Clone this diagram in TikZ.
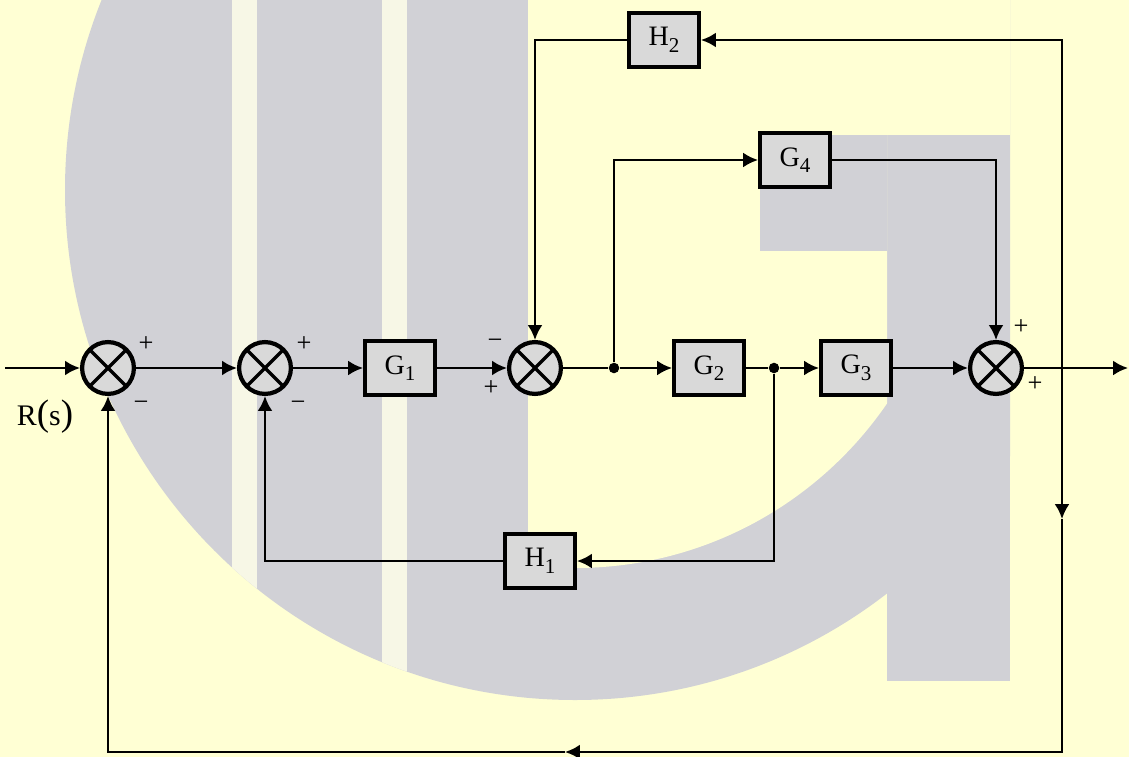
\documentclass[tikz,border=0pt]{standalone}
\usepackage{fontspec}
\setmainfont{Liberation Serif}
\usetikzlibrary{arrows.meta}
\definecolor{bgcol}{RGB}{255,255,212}
\definecolor{logocol}{RGB}{209,209,214}
\definecolor{stripecol}{RGB}{247,247,230}
\definecolor{boxcol}{RGB}{217,217,217}
\tikzstyle{block}=[draw,line width=2.1pt,fill=boxcol,minimum width=40pt,minimum height=31pt,
                   inner sep=0,font=\fontsize{16}{18}\selectfont]
\tikzstyle{summer}=[draw,circle,line width=2.4pt,fill=boxcol,minimum size=29.5pt,inner sep=0,
                    path picture={\draw[line width=2pt]
                      (path picture bounding box.north west) -- (path picture bounding box.south east)
                      (path picture bounding box.north east) -- (path picture bounding box.south west);}]
\tikzstyle{dot}=[fill,circle,inner sep=0,minimum size=6pt]
\tikzstyle{sign}=[font=\fontsize{15}{15}\selectfont,inner sep=0]
\tikzstyle{wire}=[line width=1.4pt]
\tikzstyle{sig}=[wire,-{Latex[length=8.5pt,width=8.5pt]}]
\def\sub#1{\raisebox{-0.5ex}{\fontsize{12}{12}\selectfont#1}}

\begin{document}
\begin{tikzpicture}[x=0.02cm,y=-0.02cm]
  \useasboundingbox (0,0) rectangle (1129,757);

  % BACKGROUND LOGO
  \fill[bgcol] (0,0) rectangle (1129,757);
  \begin{scope}
    \clip (0,0) rectangle (1010,757);
    \fill[logocol] (575,190) circle[radius=510];
  \end{scope}
  \fill[logocol] (887,135) rectangle (1010,681);
  \begin{scope}
    \clip (528,0) rectangle (887,757);
    \fill[bgcol] (575,190) circle[radius=378];
  \end{scope}
  \fill[bgcol] (887,0) rectangle (1010,135);
  \fill[logocol] (760,135) rectangle (887,251);
  \begin{scope}
    \clip (575,190) circle[radius=510];
    \fill[stripecol] (232,0) rectangle (257,757);
    \fill[stripecol] (382,0) rectangle (407,757);
  \end{scope}

  % FORWARD PATH
  \coordinate (in) at (5,368);
  \node[summer] (s1) at (108,368) {};
  \node[summer] (s2) at (265,368) {};
  \node[block] (G1) at (400,368) {G\sub{1}};
  \node[summer] (s3) at (535,368) {};
  \node[dot] (b1) at (614,368) {};
  \node[block] (G2) at (709,368) {G\sub{2}};
  \node[dot] (b2) at (774,368) {};
  \node[block] (G3) at (856,368) {G\sub{3}};
  \node[summer] (s4) at (996,368) {};
  \coordinate (out) at (1128,368);
  \node[block] (G4) at (795,160) {G\sub{4}};
  \node[block] (H2) at (664,40) {H\sub{2}};
  \node[block] (H1) at (540,561) {H\sub{1}};
  \node (Rs) at (45,417) {\fontsize{17}{19}\selectfont R{\fontsize{21}{21}\selectfont(}s{\fontsize{21}{21}\selectfont)}};

  % SIGNS
  \node[sign] (p1) at (146,344) {+};
  \node[sign] (m1) at (141,406) {−};
  \node[sign] (p2) at (304,344) {+};
  \node[sign] (m2) at (298,406) {−};
  \node[sign] (m3) at (495,344) {−};
  \node[sign] (p3) at (491,388) {+};
  \node[sign] (p4) at (1021,327) {+};
  \node[sign] (p5) at (1035,384) {+};

  \draw[sig] (in) -- (s1);
  \draw[sig] (s1) -- (s2);
  \draw[sig] (s2) -- (G1);
  \draw[sig] (G1) -- (s3);
  \draw[wire] (s3) -- (b1);
  \draw[sig] (b1) -- (G2);
  \draw[wire] (G2) -- (b2);
  \draw[sig] (b2) -- (G3);
  \draw[sig] (G3) -- (s4);
  \draw[sig] (s4) -- (out);
  \draw[sig] (b1) |- (G4);
  \draw[sig] (G4) -| (s4);

  % FEEDBACK
  \coordinate (tap) at (1062,368);
  \coordinate (dn) at (1062,519);
  \coordinate (br) at (1062,752);
  \coordinate (lf) at (565,752);
  \draw[sig] (tap) |- (H2);
  \draw[sig] (H2) -| (s3);
  \draw[sig] (b2) |- (H1);
  \draw[sig] (H1) -| (s2);
  \draw[sig] (tap) -- (dn);
  \draw[sig] (dn) -- (br) -- (lf);
  \draw[sig] (lf) -| (s1);
\end{tikzpicture}
\end{document}
